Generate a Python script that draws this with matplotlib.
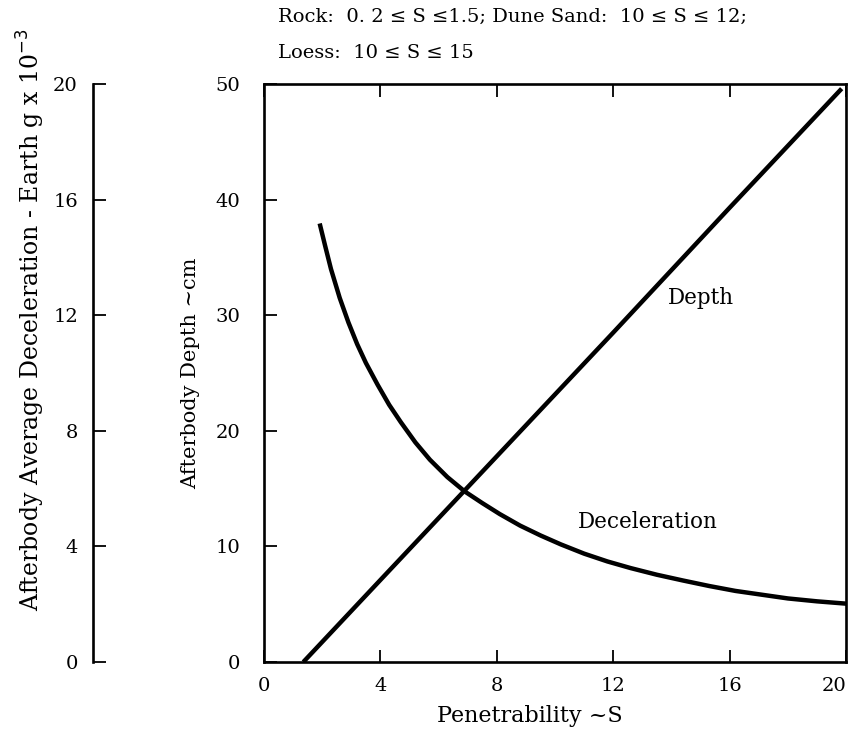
import matplotlib
matplotlib.use("Agg")
import matplotlib.pyplot as plt

# afterbody penetration vs. soil penetrability
depth_s = [1.35, 4.0, 8.0, 12.0, 16.0, 19.85]
depth_cm = [0.0, 7.1, 17.8, 28.5, 39.3, 49.6]

decel_s = [1.93, 2.1, 2.3, 2.6, 2.9, 3.2, 3.5, 3.9, 4.3, 4.7, 5.2, 5.7, 6.3, 6.9, 7.5,
           8.1, 8.8, 9.5, 10.2, 11.0, 11.8, 12.6, 13.5, 14.4, 15.3, 16.2, 17.1, 18.0,
           19.0, 20.0]
decel_g = [15.1, 14.4, 13.6, 12.6, 11.75, 11.0, 10.35, 9.6, 8.9, 8.3, 7.6, 7.0, 6.4,
           5.9, 5.5, 5.12, 4.72, 4.38, 4.07, 3.75, 3.48, 3.25, 3.02, 2.82, 2.63, 2.46,
           2.33, 2.2, 2.1, 2.02]

x_ticks = [0, 4, 8, 12, 16, 20]
depth_ticks = [0, 10, 20, 30, 40, 50]
decel_ticks = [0, 4, 8, 12, 16, 20]

plt.rcParams['font.family'] = ['DejaVu Serif']

fig = plt.figure(figsize=(8.49, 7.32), dpi=100)
ax = fig.add_axes([0.311, 0.0956, 0.6855, 0.7896])

ax.plot(depth_s, depth_cm, color='black', lw=3.2, solid_capstyle='butt')
ax.set_xlim(0, 20)
ax.set_ylim(0, 50)
ax.set_xticks(x_ticks)
ax.set_yticks(depth_ticks)
ax.tick_params(direction='in', top=True, right=True, length=9, width=1.3, labelsize=14)
ax.tick_params(axis='x', pad=11)
ax.tick_params(axis='y', pad=17)
ax.get_xticklabels()[-1].set_horizontalalignment('right')
for sp in ax.spines.values():
    sp.set_linewidth(1.9)
ax.set_xlabel('Penetrability ~S', fontsize=16)
ax.xaxis.set_label_coords(0.457, -0.074)
ax.set_ylabel('Afterbody Depth ~cm', fontsize=15, labelpad=11)

# deceleration on its own scale, spine pulled out to the left
ax2 = ax.twinx()
ax2.plot(decel_s, decel_g, color='black', lw=3.2, solid_joinstyle='round')
ax2.set_ylim(0, 20)
ax2.set_yticks(decel_ticks)
ax2.yaxis.set_ticks_position('left')
ax2.yaxis.set_label_position('left')
ax2.spines['left'].set_position(('outward', 123))
ax2.spines['left'].set_visible(True)
ax2.spines['left'].set_linewidth(1.9)
for side in ['right', 'top', 'bottom']:
    ax2.spines[side].set_visible(False)
ax2.tick_params(axis='y', direction='in', length=9, width=1.3, labelsize=14, pad=11)

fig.text(0.036, 1 - 320 / 732, 'Afterbody Average Deceleration - Earth g x 10$^{-3}$',
         rotation=90, ha='center', va='center', fontsize=17)

ax.text(15.0, 31.5, 'Depth', ha='center', va='center', fontsize=15.5)
ax.text(13.2, 12.1, 'Deceleration', ha='center', va='center', fontsize=15.5)

fig.text(278 / 849, 1 - 17 / 732, 'Rock:  0. 2 \u2264 S \u22641.5; Dune Sand:  10 \u2264 S \u2264 12;',
         ha='left', va='center', fontsize=14)
fig.text(278 / 849, 1 - 53 / 732, 'Loess:  10 \u2264 S \u2264 15',
         ha='left', va='center', fontsize=14)

fig.savefig('out.png', dpi=100)
